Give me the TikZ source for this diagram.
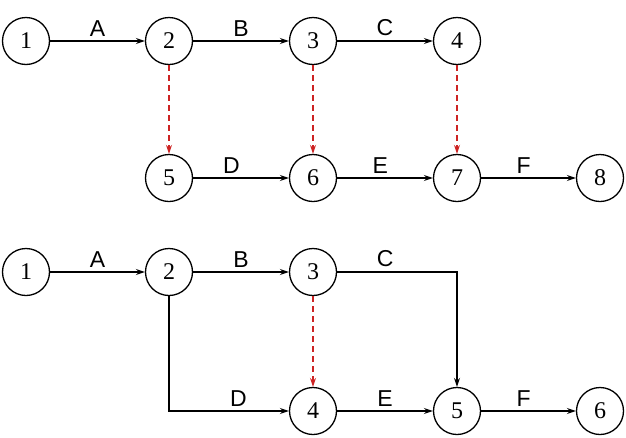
\documentclass[tikz,border=0pt]{standalone}
\usepackage{fontspec}
\setmainfont{Liberation Serif}
\newfontfamily\letterfont{Liberation Sans}
\usetikzlibrary{arrows.meta}
\definecolor{dummyred}{RGB}{205,35,35}
\tikzstyle{event}=[draw, circle, line width=1.3pt, minimum size=47pt, inner sep=0, font=\fontsize{24}{24}\selectfont]
\tikzstyle{activity}=[line width=1.3pt, -{Stealth[length=9pt, width=6pt]}]
\tikzstyle{dummy}=[activity, color=dummyred, dash pattern=on 6pt off 4pt]
\tikzstyle{actlabel}=[font=\letterfont\fontsize{23}{23}\selectfont, above=1pt]
\begin{document}
\begin{tikzpicture}[x=1pt, y=-1pt]
        \useasboundingbox (0, 0) rectangle (626, 437);
        % upper network
        \node[event] (t1) at (26, 41) {1};
        \node[event] (t2) at (169, 41) {2};
        \node[event] (t3) at (313, 41) {3};
        \node[event] (t4) at (457, 41) {4};
        \node[event] (t5) at (169, 178) {5};
        \node[event] (t6) at (313, 178) {6};
        \node[event] (t7) at (457, 178) {7};
        \node[event] (t8) at (600, 178) {8};
        \draw[activity] (t1) -- node[actlabel] {A} (t2);
        \draw[activity] (t2) -- node[actlabel] {B} (t3);
        \draw[activity] (t3) -- node[actlabel] {C} (t4);
        \draw[activity] (t5) -- node[actlabel, pos=0.4] {D} (t6);
        \draw[activity] (t6) -- node[actlabel, pos=0.45] {E} (t7);
        \draw[activity] (t7) -- node[actlabel, pos=0.45] {F} (t8);
        \draw[dummy] (t2) -- (t5);
        \draw[dummy] (t3) -- (t6);
        \draw[dummy] (t4) -- (t7);
        % lower network
        \node[event] (b1) at (26, 272) {1};
        \node[event] (b2) at (169, 272) {2};
        \node[event] (b3) at (313, 272) {3};
        \node[event] (b4) at (313, 411) {4};
        \node[event] (b5) at (457, 411) {5};
        \node[event] (b6) at (600, 411) {6};
        \draw[activity] (b1) -- node[actlabel] {A} (b2);
        \draw[activity] (b2) -- node[actlabel] {B} (b3);
        \draw[activity] (b3.east) -| node[actlabel, pos=0.2] {C} (b5.north);
        \draw[activity] (b2.south) |- node[actlabel, pos=0.79] {D} (b4.west);
        \draw[activity] (b4) -- node[actlabel, pos=0.5] {E} (b5);
        \draw[activity] (b5) -- node[actlabel, pos=0.45] {F} (b6);
        \draw[dummy] (b3) -- (b4);
    \end{tikzpicture}
\end{document}
